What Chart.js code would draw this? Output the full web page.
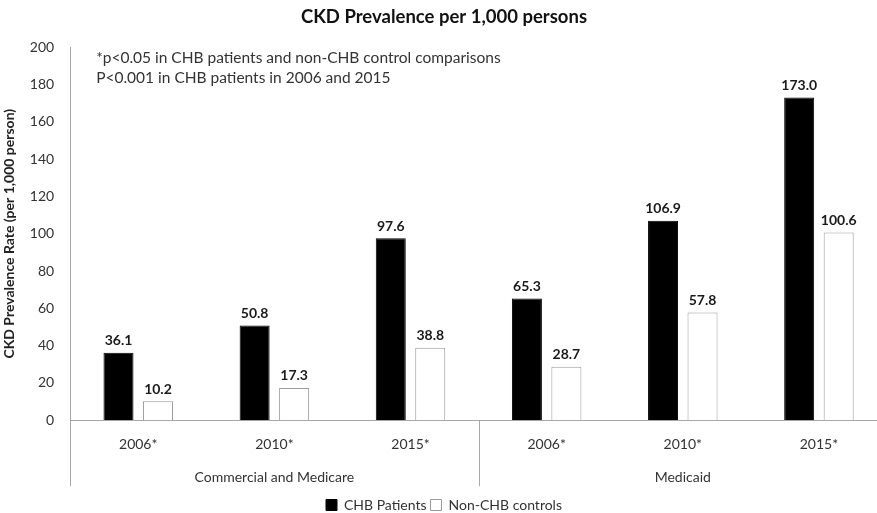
<!DOCTYPE html>
<html>
<head>
<meta charset="utf-8">
<script src="https://cdn.jsdelivr.net/npm/chart.js@4/dist/chart.umd.min.js"></script>
<style>
  html, body { margin: 0; padding: 0; background: #fff; overflow: hidden; }
  #wrap { width: 897px; height: 522px; }
</style>
</head>
<body>
<div id="wrap"><canvas id="ckdChart" width="897" height="522"></canvas></div>
<script>
// CKD prevalence per 1,000 persons, by insurance group and year
const years = ['2006*', '2010*', '2015*', '2006*', '2010*', '2015*'];
const groups = ['Commercial and Medicare', 'Medicaid'];
const chbPatients = [36.1, 50.8, 97.6, 65.3, 106.9, 173.0];
const nonChbControls = [10.2, 17.3, 38.8, 28.7, 57.8, 100.6];
const notes = [
  '*p<0.05 in CHB patients and non-CHB control comparisons',
  'P<0.001 in CHB patients in 2006 and 2015'
];

const FONT = 'Lato, "Open Sans", sans-serif';
const AXIS_GREY = '#a8a8a8';

// year on the first line, group name under the middle year of each group
const xLabels = years.map((y, i) => (i % 3 === 1 ? [y, groups[Math.floor(i / 3)]] : [y, '']));

// value labels above each bar
const valueLabels = {
  id: 'valueLabels',
  afterDatasetsDraw(chart) {
    const ctx = chart.ctx;
    ctx.save();
    ctx.font = 'bold 14px ' + FONT;
    ctx.fillStyle = '#1a1a1a';
    ctx.textAlign = 'center';
    ctx.textBaseline = 'bottom';
    chart.data.datasets.forEach((ds, di) => {
      chart.getDatasetMeta(di).data.forEach((bar, i) => {
        ctx.fillText(ds.data[i].toFixed(1), bar.x, bar.y - 5);
      });
    });
    ctx.restore();
  }
};

// vertical separators between the two insurance groups, under the axis
const groupSeparators = {
  id: 'groupSeparators',
  afterDraw(chart) {
    const xs = chart.scales.x;
    const step = xs.getPixelForValue(1) - xs.getPixelForValue(0);
    const start = xs.getPixelForValue(0) - step / 2;
    const ctx = chart.ctx;
    ctx.save();
    ctx.strokeStyle = AXIS_GREY;
    ctx.lineWidth = 1;
    ctx.beginPath();
    for (let i = 0; i <= years.length; i += 3) {
      const x = Math.round(start + i * step) + 0.5;
      ctx.moveTo(x, xs.top);
      ctx.lineTo(x, xs.top + 66);
    }
    ctx.stroke();
    ctx.restore();
  }
};

// significance notes in the top-left corner of the plot
const noteText = {
  id: 'noteText',
  afterDraw(chart) {
    const ctx = chart.ctx;
    const area = chart.chartArea;
    ctx.save();
    ctx.font = '15.5px ' + FONT;
    ctx.fillStyle = '#333';
    ctx.textBaseline = 'middle';
    notes.forEach((t, i) => ctx.fillText(t, area.left + 26, area.top + 11 + i * 20));
    ctx.restore();
  }
};

new Chart(document.getElementById('ckdChart'), {
  type: 'bar',
  data: {
    labels: xLabels,
    datasets: [
      {
        label: 'CHB Patients',
        data: chbPatients,
        backgroundColor: '#000',
        borderColor: '#000',
        borderWidth: 1
      },
      {
        label: 'Non-CHB controls',
        data: nonChbControls,
        backgroundColor: '#fff',
        borderColor: '#9a9a9a',
        borderWidth: 1
      }
    ]
  },
  options: {
    responsive: false,
    animation: false,
    categoryPercentage: 0.58,
    barPercentage: 0.76,
    layout: { padding: { top: 0, right: 10, left: 1, bottom: 0 } },
    plugins: {
      title: {
        display: true,
        text: 'CKD Prevalence per 1,000 persons',
        color: '#111',
        font: { family: FONT, size: 18.5, weight: 'bold' },
        padding: { top: 6, bottom: 19 }
      },
      legend: {
        position: 'bottom',
        labels: {
          color: '#333',
          font: { family: FONT, size: 14 },
          boxWidth: 11,
          boxHeight: 11,
          padding: 4
        }
      },
      tooltip: { enabled: false }
    },
    scales: {
      x: {
        grid: { display: false },
        border: { color: AXIS_GREY },
        ticks: {
          color: '#333',
          font: { family: FONT, size: 14, lineHeight: 2.35 },
          padding: 0,
          maxRotation: 0,
          autoSkip: false
        }
      },
      y: {
        min: 0,
        max: 200,
        grid: { display: false },
        border: { color: AXIS_GREY },
        ticks: {
          stepSize: 20,
          color: '#333',
          font: { family: FONT, size: 14 },
          padding: 8
        },
        title: {
          display: true,
          text: 'CKD Prevalence Rate (per 1,000 person)',
          color: '#222',
          font: { family: FONT, size: 14, weight: 'bold' },
          padding: { top: 0, bottom: 4 }
        }
      }
    }
  },
  plugins: [valueLabels, groupSeparators, noteText]
});
</script>
</body>
</html>
